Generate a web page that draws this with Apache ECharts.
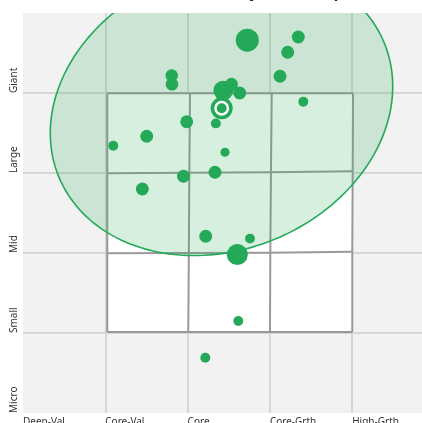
<!DOCTYPE html>
<html>
<head>
<meta charset="utf-8">
<script src="https://cdn.jsdelivr.net/npm/echarts@6/dist/echarts.min.js"></script>
<style>
  html, body { margin: 0; padding: 0; background: #fff; overflow: hidden; }
  #chart { width: 422px; height: 423px; }
</style>
</head>
<body>
<div id="chart"></div>
<script>
var styleLabels = ['Deep-Val', 'Core-Val', 'Core', 'Core-Grth', 'High-Grth']
var sizeLabels = ['Micro', 'Small', 'Mid', 'Large', 'Giant']

// holdings: [style score, size score, weight %]
var holdings = [
  [2.725, 4.66, 10.8], [3.345, 4.70, 3.4], [3.216, 4.51, 3.4], [3.123, 4.21, 3.4],
  [1.807, 4.22, 3.2], [1.810, 4.11, 3.2], [2.434, 4.03, 8.0], [2.533, 4.11, 3.4],
  [2.633, 4.00, 3.4], [3.406, 3.89, 2.0], [1.989, 3.64, 3.4], [2.343, 3.62, 2.0],
  [1.503, 3.46, 3.4], [1.097, 3.34, 2.0], [2.454, 3.26, 1.7], [1.950, 2.96, 3.4],
  [2.333, 3.01, 3.4], [1.450, 2.80, 3.4], [2.220, 2.21, 3.4], [2.758, 2.18, 2.0],
  [2.604, 1.98, 9.0], [2.616, 1.15, 2.0], [2.215, 0.69, 2.0]
]
var centroid = [2.414, 3.81]

// ownership zone: centre and the two semi-axes (style, size units)
var zoneCenter = [2.412, 3.79]
var zoneMajor = [1.978, 0.835]
var zoneMinor = [0.645, -1.619]

// style box corners: column x per row (top to bottom), row y per column (left to right)
var boxColX = [
  [1.024, 1.024, 1.024, 1.024],
  [2.029, 2.021, 2.015, 2.008],
  [3.022, 3.013, 3.005, 3.001],
  [4.010, 4.006, 4.001, 4.001]
]
var boxRowY = [
  [3.996, 3.996, 3.996, 3.996],
  [2.996, 3.003, 3.009, 3.021],
  [1.996, 2.000, 2.004, 2.016],
  [1.013, 1.013, 1.013, 1.013]
]

var green = '#23a957'
var chart = echarts.init(document.getElementById('chart'))

function vertex(api, i, j) {
  return api.coord([boxColX[j][i], boxRowY[i][j]])
}

chart.setOption({
  animation: false,
  title: {
    text: 'Portfolio by Ownership',
    left: 166,
    top: -19,
    textStyle: { fontFamily: 'Noto Sans', fontSize: 15, fontWeight: 'bold', color: '#222' }
  },
  grid: {
    left: 23,
    width: 411.5,
    top: 13,
    height: 400,
    outerBoundsMode: 'none',
    containLabel: false,
    show: true,
    backgroundColor: '#f2f2f2',
    borderWidth: 0
  },
  xAxis: {
    type: 'value',
    min: 0,
    max: 5,
    interval: 1,
    axisLine: { show: false },
    axisTick: { show: false },
    axisLabel: {
      align: 'left',
      margin: 4,
      fontFamily: 'Noto Sans',
      fontSize: 10,
      color: '#333',
      formatter: function (v) { return styleLabels[v] || '' }
    },
    splitLine: { show: true, showMinLine: false, showMaxLine: false, lineStyle: { color: '#d6d6d6', width: 2 } }
  },
  yAxis: {
    type: 'value',
    min: 0,
    max: 5,
    interval: 1,
    axisLine: { show: false },
    axisTick: { show: false },
    axisLabel: {
      rotate: 90,
      align: 'left',
      verticalAlign: 'bottom',
      margin: 4,
      fontFamily: 'Noto Sans',
      fontSize: 10,
      color: '#333',
      formatter: function (v) { return sizeLabels[v] || '' }
    },
    splitLine: { show: true, showMinLine: false, showMaxLine: false, lineStyle: { color: '#d6d6d6', width: 2 } }
  },
  series: [{
    type: 'custom',
    z: 1,
    silent: true,
    data: [0],
    renderItem: function (params, api) {
      var children = []
      var outline = []
      var i, j
      for (j = 0; j < 4; j++) outline.push(vertex(api, 0, j))
      for (i = 1; i < 4; i++) outline.push(vertex(api, i, 3))
      for (j = 2; j >= 0; j--) outline.push(vertex(api, 3, j))
      for (i = 2; i > 0; i--) outline.push(vertex(api, i, 0))
      children.push({ type: 'polygon', shape: { points: outline }, style: { fill: '#fff' } })
      for (i = 0; i < 4; i++) {
        var row = []
        for (j = 0; j < 4; j++) row.push(vertex(api, i, j))
        children.push({ type: 'polyline', shape: { points: row }, style: { stroke: '#999', lineWidth: 2, fill: null } })
      }
      for (j = 0; j < 4; j++) {
        var col = []
        for (i = 0; i < 4; i++) col.push(vertex(api, i, j))
        children.push({ type: 'polyline', shape: { points: col }, style: { stroke: '#999', lineWidth: 2, fill: null } })
      }
      return { type: 'group', children: children }
    }
  }, {
    type: 'custom',
    z: 2,
    silent: true,
    clip: true,
    data: [0],
    renderItem: function (params, api) {
      var pts = []
      for (var k = 0; k < 180; k++) {
        var t = k / 180 * Math.PI * 2
        pts.push(api.coord([
          zoneCenter[0] + Math.cos(t) * zoneMajor[0] + Math.sin(t) * zoneMinor[0],
          zoneCenter[1] + Math.cos(t) * zoneMajor[1] + Math.sin(t) * zoneMinor[1]
        ]))
      }
      return {
        type: 'polygon',
        shape: { points: pts },
        style: { fill: 'rgba(35,169,87,0.19)', stroke: green, lineWidth: 1.6 }
      }
    }
  }, {
    type: 'scatter',
    z: 3,
    data: holdings,
    symbolSize: function (v) { return 7 * Math.sqrt(v[2]) },
    itemStyle: { color: green, opacity: 1 }
  }, {
    type: 'scatter',
    z: 4,
    data: [centroid],
    symbolSize: 22,
    itemStyle: { color: green, opacity: 1 }
  }, {
    type: 'scatter',
    z: 5,
    data: [centroid],
    symbolSize: 12.5,
    itemStyle: { color: green, borderColor: '#fff', borderWidth: 2.5, opacity: 1 }
  }]
})
</script>
</body>
</html>
